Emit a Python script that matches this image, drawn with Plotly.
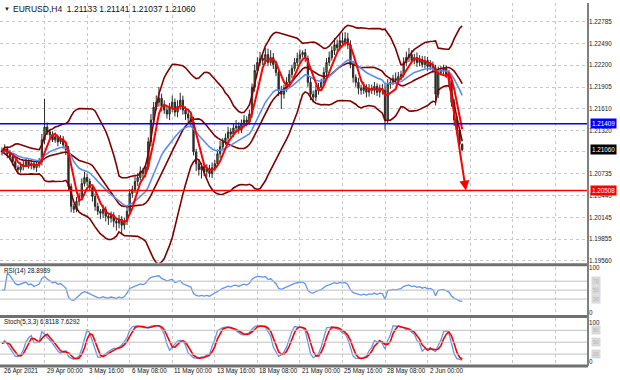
import numpy as np
import pandas as pd
import plotly.graph_objects as go
from plotly.subplots import make_subplots

# ---------------- data ----------------
closes = [
    1.21032, 1.21072, 1.21005, 1.20965, 1.20898, 1.20818, 1.20791, 1.20831, 1.20858, 1.20898,
    1.20845, 1.20871, 1.20818, 1.20858, 1.20898, 1.21193, 1.21366, 1.21300, 1.21259, 1.21193,
    1.21233, 1.21166, 1.21206, 1.21126, 1.21059, 1.20564, 1.20296, 1.20256, 1.20363, 1.20430,
    1.20604, 1.20684, 1.20631, 1.20550, 1.20430, 1.20296, 1.20229, 1.20202, 1.20256, 1.20162,
    1.20136, 1.20176, 1.20095, 1.20069, 1.20122, 1.20042, 1.20095, 1.20229, 1.20470, 1.20524,
    1.20631, 1.20684, 1.20764, 1.20738, 1.20831, 1.21166, 1.21460, 1.21634, 1.21701, 1.21755,
    1.21647, 1.21594, 1.21540, 1.21621, 1.21701, 1.21567, 1.21647, 1.21728, 1.21594, 1.21540,
    1.21487, 1.21433, 1.21032, 1.20871, 1.20791, 1.20831, 1.20764, 1.20805, 1.20738, 1.20818,
    1.20871, 1.21005, 1.21099, 1.21166, 1.21219, 1.21300, 1.21273, 1.21353, 1.21380, 1.21326,
    1.21407, 1.21460, 1.21433, 1.21540, 1.21902, 1.22129, 1.22236, 1.22290, 1.22263, 1.22343,
    1.22236, 1.22303, 1.22209, 1.22102, 1.21862, 1.21808, 1.21888, 1.21969, 1.22076, 1.22156,
    1.22236, 1.22290, 1.22343, 1.22370, 1.22290, 1.21969, 1.21808, 1.21768, 1.21862, 1.21902,
    1.21969, 1.22102, 1.22236, 1.22303, 1.22397, 1.22477, 1.22437, 1.22531, 1.22504, 1.22557,
    1.22477, 1.22209, 1.22035, 1.21969, 1.21888, 1.21862, 1.21902, 1.21835, 1.21888, 1.21862,
    1.21915, 1.21835, 1.21888, 1.21862, 1.21460, 1.21942, 1.21969, 1.22022, 1.21995, 1.22049,
    1.22076, 1.22236, 1.22303, 1.22343, 1.22263, 1.22303, 1.22236, 1.22276, 1.22209, 1.22263,
    1.22183, 1.22209, 1.22156, 1.21808, 1.22102, 1.22129, 1.22156, 1.22076, 1.21995, 1.21701,
    1.21460, 1.21326, 1.21133, 1.21060,
]
upper_wick_pips = [
    4, 6, 3, 5, 2, 4, 3, 6, 5, 4,   3, 5, 4, 6, 5, 8, 38, 6, 4, 5,
    6, 3, 5, 4, 3, 5, 4, 3, 6, 5,   7, 8, 5, 4, 3, 4, 5, 3, 6, 4,
    3, 5, 4, 3, 6, 4, 5, 7, 6, 5,   8, 6, 7, 5, 4, 6, 8, 7, 9, 15,
    6, 8, 5, 7, 9, 5, 8, 10, 6, 5,  6, 5, 7, 4, 6, 5, 4, 6, 5, 7,
    5, 6, 8, 5, 6, 7, 5, 6, 8, 5,   6, 7, 5, 6, 5, 8, 7, 9, 6, 9,
    8, 10, 6, 5, 4, 6, 5, 7, 6, 5,  6, 8, 7, 3, 5, 4, 6, 5, 7, 6,
    5, 7, 6, 8, 6, 9, 7, 10, 11, 9, 8, 6, 5, 4, 6, 5, 7, 4, 6, 5,
    6, 4, 5, 6, 8, 7, 6, 5, 8, 6,   5, 7, 8, 9, 6, 5, 7, 6, 5, 6,
    5, 6, 4, 5, 8, 6, 5, 4, 6, 5,   4, 5, 1, 1,
]
lower_wick_pips = [
    5, 3, 6, 4, 5, 3, 6, 4, 5, 3,   4, 5, 3, 6, 4, 5, 6, 4, 5, 3,
    4, 6, 3, 5, 7, 6, 8, 5, 4, 6,   5, 4, 6, 5, 7, 6, 5, 8, 6, 7,
    9, 6, 8, 10, 7, 12, 6, 5, 4, 6, 5, 6, 4, 7, 5, 4, 6, 5, 4, 6,
    7, 5, 6, 8, 5, 6, 7, 5, 6, 8,   7, 6, 5, 10, 8, 12, 6, 7, 5, 6,
    5, 4, 6, 5, 4, 6, 5, 4, 6, 5,   4, 5, 6, 4, 5, 6, 5, 4, 6, 5,
    5, 4, 6, 5, 8, 20, 6, 5, 4, 5,  4, 5, 6, 4, 5, 6, 8, 7, 5, 6,
    5, 4, 6, 5, 4, 6, 5, 4, 6, 5,   6, 5, 7, 6, 8, 6, 5, 7, 6, 5,
    6, 5, 7, 6, 13, 5, 6, 4, 5, 4,  5, 4, 5, 6, 4, 5, 6, 5, 4, 5,
    6, 5, 6, 15, 5, 4, 6, 5, 7, 6,  8, 6, 7, 2,
]
first_open = 1.21050

time_label_idx = [0, 16, 32, 48, 64, 80, 96, 112, 128, 144, 160]
time_labels = ["26 Apr 2021", "29 Apr 00:00", "3 May 16:00", "6 May 08:00", "11 May 00:00",
               "13 May 16:00", "18 May 08:00", "21 May 00:00", "25 May 16:00", "28 May 08:00",
               "2 Jun 00:00"]
grid_idx = [16, 32, 48, 64, 80, 96, 112, 128, 144, 160, 176, 192, 208]

price_ticks = [1.22785, 1.22490, 1.22200, 1.21905, 1.21610, 1.21320, 1.21030,
               1.20735, 1.20440, 1.20145, 1.19855, 1.19560]
price_tick_text = ["1.22785", "1.22490", "1.22200", "1.21905", "1.21610", "1.21320", "",
                   "1.20735", "1.20440", "1.20145", "1.19855", "1.19560"]

resistance_level = 1.21409
support_level = 1.20508
last_price = 1.21060
arrow_from = (167.7, 1.22076)
arrow_to = (174.4, 1.20508)

header_text = "EURUSD,H4  1.21133 1.21141 1.21037 1.21060"
rsi_text = "RSI(14) 28.8989"
stoch_text = "Stoch(5,3,3) 6.8118 7.6292"
rsi_levels = [70, 50, 30]
stoch_levels = [80, 50, 20]

# ---------------- derived series ----------------
c = pd.Series(closes)
o = pd.Series([first_open] + closes[:-1])
h = np.maximum(o, c) + pd.Series(upper_wick_pips) * 0.0001
l = np.minimum(o, c) - pd.Series(lower_wick_pips) * 0.0001
idx = np.arange(len(c))

ma5 = c.rolling(5, min_periods=1).mean()
ema = c.ewm(span=20, adjust=False).mean()
mid = c.rolling(20, min_periods=1).mean()
sd = c.rolling(20, min_periods=1).std(ddof=0).fillna(0)
bb_up = mid + 2 * sd
bb_lo = mid - 2 * sd

delta = c.diff()
gain = delta.clip(lower=0)
loss = -delta.clip(upper=0)
ag = gain.ewm(alpha=1 / 14, adjust=False).mean()
al = loss.ewm(alpha=1 / 14, adjust=False).mean()
rsi = 100 - 100 / (1 + ag / al.replace(0, np.nan))
rsi = rsi.fillna(50)

ll = l.rolling(5, min_periods=1).min()
hh = h.rolling(5, min_periods=1).max()
k = 100 * (c - ll).rolling(3, min_periods=1).sum() / (hh - ll).rolling(3, min_periods=1).sum()
d = k.rolling(3, min_periods=1).mean()

# ---------------- figure ----------------
H = 366.0
def py(px):
    return 1 - px / H

fig = make_subplots(rows=3, cols=1, shared_xaxes=True)

BB = "#800000"
fig.add_trace(go.Scatter(x=idx, y=bb_up, mode="lines", line=dict(color=BB, width=1.6)), 1, 1)
fig.add_trace(go.Scatter(x=idx, y=mid, mode="lines", line=dict(color=BB, width=1.6)), 1, 1)
fig.add_trace(go.Scatter(x=idx, y=bb_lo, mode="lines", line=dict(color=BB, width=1.6)), 1, 1)
fig.add_trace(go.Candlestick(
    x=idx, open=o, high=h, low=l, close=c,
    increasing=dict(fillcolor="#3a9a1a", line=dict(color="#2a2a2a", width=1)),
    decreasing=dict(fillcolor="#2a2a2a", line=dict(color="#2a2a2a", width=1)),
    whiskerwidth=0), 1, 1)
fig.add_trace(go.Scatter(x=idx, y=ema, mode="lines", line=dict(color="#5b8def", width=1.6)), 1, 1)
fig.add_trace(go.Scatter(x=idx, y=ma5, mode="lines", line=dict(color="#ff0000", width=2)), 1, 1)

fig.add_trace(go.Scatter(x=idx, y=rsi, mode="lines", line=dict(color="#6495ed", width=1.3)), 2, 1)
fig.add_trace(go.Scatter(x=idx, y=k, mode="lines", line=dict(color="#6495ed", width=1.3)), 3, 1)
fig.add_trace(go.Scatter(x=idx, y=d, mode="lines", line=dict(color="#ff0000", width=1.6)), 3, 1)

xr = [-0.75, 220.3]
grid_col = "#c8c8c8"
for ax in ["xaxis", "xaxis2", "xaxis3"]:
    fig.layout[ax].update(range=xr, tickvals=grid_idx, showticklabels=False, showgrid=True,
                          gridcolor=grid_col, griddash="dot", gridwidth=1, zeroline=False,
                          rangeslider=dict(visible=False), ticks="", showline=False)

fig.layout.yaxis.update(domain=[py(262), 1], range=[1.195332, 1.230392], side="right",
                        tickvals=price_ticks, ticktext=price_tick_text, showgrid=True,
                        gridcolor=grid_col, griddash="dot", zeroline=False, ticks="",
                        tickfont=dict(size=6.3, color="#222"))
fig.layout.yaxis2.update(domain=[py(314), py(266)], range=[-4.4, 102.2], side="right",
                         tickvals=[100, 0], ticktext=["100", "0"], showgrid=False,
                         zeroline=False, ticks="", tickfont=dict(size=6.3, color="#222"))
fig.layout.yaxis3.update(domain=[py(365), py(318)], range=[-7.5, 110], side="right",
                         tickvals=[100, 0], ticktext=["100", "0"], showgrid=False,
                         zeroline=False, ticks="", tickfont=dict(size=6.3, color="#222"))

shapes = []
shapes.append(dict(type="line", xref="paper", yref="y", x0=0, x1=1, y0=resistance_level,
                   y1=resistance_level, line=dict(color="#0000ff", width=1.5)))
shapes.append(dict(type="line", xref="paper", yref="y", x0=0, x1=1, y0=support_level,
                   y1=support_level, line=dict(color="#ff0000", width=1.5)))
for lv in rsi_levels:
    shapes.append(dict(type="line", xref="paper", yref="y2", x0=0, x1=1, y0=lv, y1=lv,
                       line=dict(color="#c0c0c0", width=1)))
for lv in stoch_levels:
    shapes.append(dict(type="line", xref="paper", yref="y3", x0=0, x1=1, y0=lv, y1=lv,
                       line=dict(color="#c0c0c0", width=1)))
for pxv in [264, 316, 366]:
    shapes.append(dict(type="line", xref="paper", yref="paper", x0=0, x1=1, y0=py(pxv),
                       y1=py(pxv), line=dict(color="#707070", width=3)))
shapes.append(dict(type="line", xref="paper", yref="paper", x0=1, x1=1, y0=0, y1=1,
                   line=dict(color="#808080", width=2)))

ann = []
fnt = "Liberation Sans"
ann.append(dict(xref="paper", yref="paper", x=0.004, y=py(6), xanchor="left", yanchor="middle",
                text="\u25bc", showarrow=False, font=dict(size=6, color="#222", family=fnt)))
ann.append(dict(xref="paper", yref="paper", x=0.019, y=py(6), xanchor="left", yanchor="middle",
                text=header_text, showarrow=False, font=dict(size=8.5, color="#111", family=fnt)))
ann.append(dict(xref="paper", yref="paper", x=0.004, y=py(270), xanchor="left",
                yanchor="middle", text=rsi_text, showarrow=False,
                font=dict(size=6.3, color="#111", family=fnt)))
ann.append(dict(xref="paper", yref="paper", x=0.004, y=py(322), xanchor="left",
                yanchor="middle", text=stoch_text, showarrow=False,
                font=dict(size=6.3, color="#111", family=fnt)))
for t, lab in zip(time_label_idx, time_labels):
    ann.append(dict(xref="x3", yref="paper", x=t, y=py(371), xanchor="left", yanchor="middle",
                    text=lab, showarrow=False, font=dict(size=6.3, color="#111", family=fnt)))
for val, col in [(resistance_level, "#0000ff"), (last_price, "#000000"), (support_level, "#ff0000")]:
    ann.append(dict(xref="paper", yref="y", x=1, y=val, xanchor="left", yanchor="middle",
                    xshift=2, text=f"{val:.5f}", showarrow=False, bgcolor=col, borderpad=1,
                    font=dict(size=6.3, color="#ffffff", family=fnt)))
for lv in rsi_levels:
    ann.append(dict(xref="paper", yref="y2", x=1, y=lv, xanchor="left", yanchor="middle",
                    xshift=3, text=str(lv), showarrow=False, bgcolor="#d9d9d9",
                    font=dict(size=5, color="#b8b8b8", family=fnt)))
for lv in stoch_levels:
    ann.append(dict(xref="paper", yref="y3", x=1, y=lv, xanchor="left", yanchor="middle",
                    xshift=3, text=str(lv), showarrow=False, bgcolor="#d9d9d9",
                    font=dict(size=5, color="#b8b8b8", family=fnt)))
ann.append(dict(xref="x", yref="y", x=arrow_to[0], y=arrow_to[1], axref="x", ayref="y",
                ax=arrow_from[0], ay=arrow_from[1], showarrow=True, arrowhead=2,
                arrowsize=1, arrowwidth=2, arrowcolor="#ff0000", text=""))

fig.update_layout(width=620, height=380, margin=dict(l=0, r=32, t=0, b=14),
                  paper_bgcolor="white", plot_bgcolor="white", showlegend=False,
                  shapes=shapes, annotations=ann, hovermode=False,
                  font=dict(family=fnt, size=6.3, color="#222"))

fig.write_html("out.html", config={"displayModeBar": False},
               post_script="document.body.style.margin='0';document.body.style.padding='0';"
                           "document.body.style.overflow='hidden';")
